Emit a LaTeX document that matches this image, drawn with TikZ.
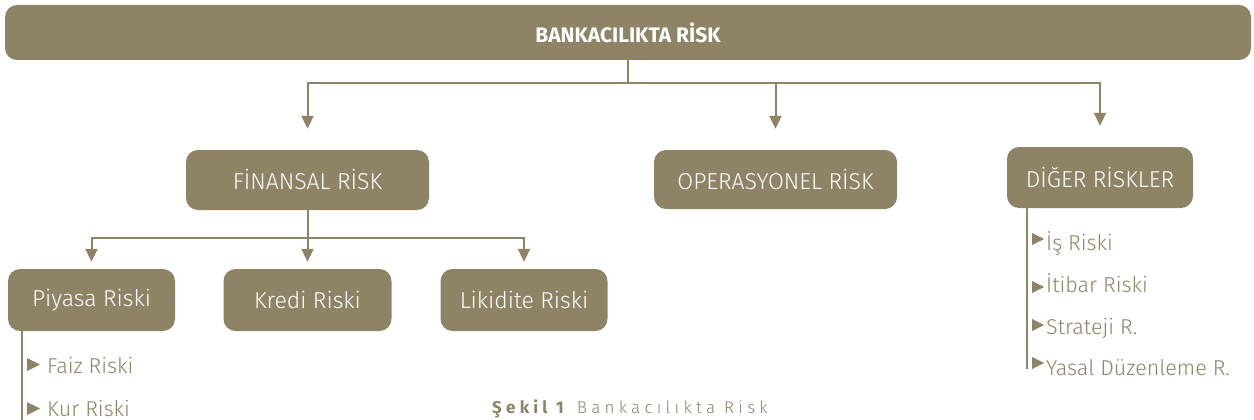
\documentclass[tikz,border=0pt]{standalone}
\usepackage{fontspec}
\setmainfont{Fira Sans Light}[BoldFont=Fira Sans Bold]
\usetikzlibrary{arrows.meta,calc}
\definecolor{brn}{RGB}{143,131,102}
\tikzset{
  box/.style={fill=brn, rounded corners=12pt, text=white, inner sep=0pt,
    font=\fontsize{23}{25}\selectfont},
  conn/.style={draw=brn, line width=2pt},
  arr/.style={conn, -{Triangle[width=12pt,length=13pt]}},
  item/.style={text=brn, anchor=base west, inner sep=0pt, font=\fontsize{21.5}{23}\selectfont},
  bullet/.style={fill=brn},
}
\begin{document}
\begin{tikzpicture}[x=1pt,y=-1pt]
\useasboundingbox (0,0) rectangle (1254,420);
% top
\node[box, minimum width=1246pt, minimum height=55pt, font=\bfseries\fontsize{21}{23}\selectfont] (top) at (628,32.5) {BANKACILIKTA RİSK};
\coordinate (j1) at (628,83);
% level 1
\node[box, minimum width=243pt, minimum height=60pt] (fin) at (307.5,180) {FİNANSAL RİSK};
\node[box, minimum width=243pt, minimum height=59pt] (ops) at (775.5,179.5) {OPERASYONEL RİSK};
\node[box, minimum width=186pt, minimum height=61pt] (dig) at (1100,177.5) {DİĞER RİSKLER};
\draw[conn] (top.south) -- (j1);
\draw[arr, shorten >=21pt] (j1) -| (fin.north);
\draw[arr, shorten >=21pt] (j1) -| (dig.north);
\draw[arr, shorten >=21pt] (ops.north |- j1) -- (ops.north);
% level 2
\node[box, minimum width=167pt, minimum height=62pt] (piy) at (91.5,300) {Piyasa Riski};
\node[box, minimum width=168pt, minimum height=62pt] (kre) at (307.5,300) {Kredi Riski};
\node[box, minimum width=167pt, minimum height=62pt] (lik) at (524,300) {Likidite Riski};
\coordinate (j2) at (307.5,238);
\draw[conn] (fin.south) -- (j2);
\draw[arr, shorten >=7pt] (j2) -| (piy.north);
\draw[arr, shorten >=7pt] (j2) -| (lik.north);
\draw[arr, shorten >=7pt] (j2) -- (kre.north);
% piyasa list
\coordinate (pl) at (22,420);
\draw[conn] (pl |- piy.south) -- (pl);
\node[item] (faiz) at (47,373) {Faiz Riski};
\node[item] (kur) at (47,416) {Kur Riski};
\fill[bullet] (27,358) -- (40,364.5) -- (27,371) -- cycle;
\fill[bullet] (27,402) -- (40,408.5) -- (27,415) -- cycle;
% diger list
\coordinate (dl) at (1027,369);
\draw[conn] (dl |- dig.south) -- (dl);
\node[item] (is) at (1046,250) {İş Riski};
\node[item] (itb) at (1046,292) {İtibar Riski};
\node[item] (str) at (1046,334) {Strateji R.};
\node[item] (yas) at (1046,375) {Yasal Düzenleme R.};
\fill[bullet] (1032,233) -- (1044,239) -- (1032,245) -- cycle;
\fill[bullet] (1032,281) -- (1044,287) -- (1032,293) -- cycle;
\fill[bullet] (1032,319) -- (1044,325) -- (1032,331) -- cycle;
\fill[bullet] (1032,357) -- (1044,363) -- (1032,369) -- cycle;
% caption
\node[anchor=base west, inner sep=0pt, text=brn, font=\fontsize{17}{19}\selectfont\addfontfeature{LetterSpace=25}] (cap) at (492,413) {\textbf{Şekil 1} Bankacılıkta Risk};
\end{tikzpicture}
\end{document}
